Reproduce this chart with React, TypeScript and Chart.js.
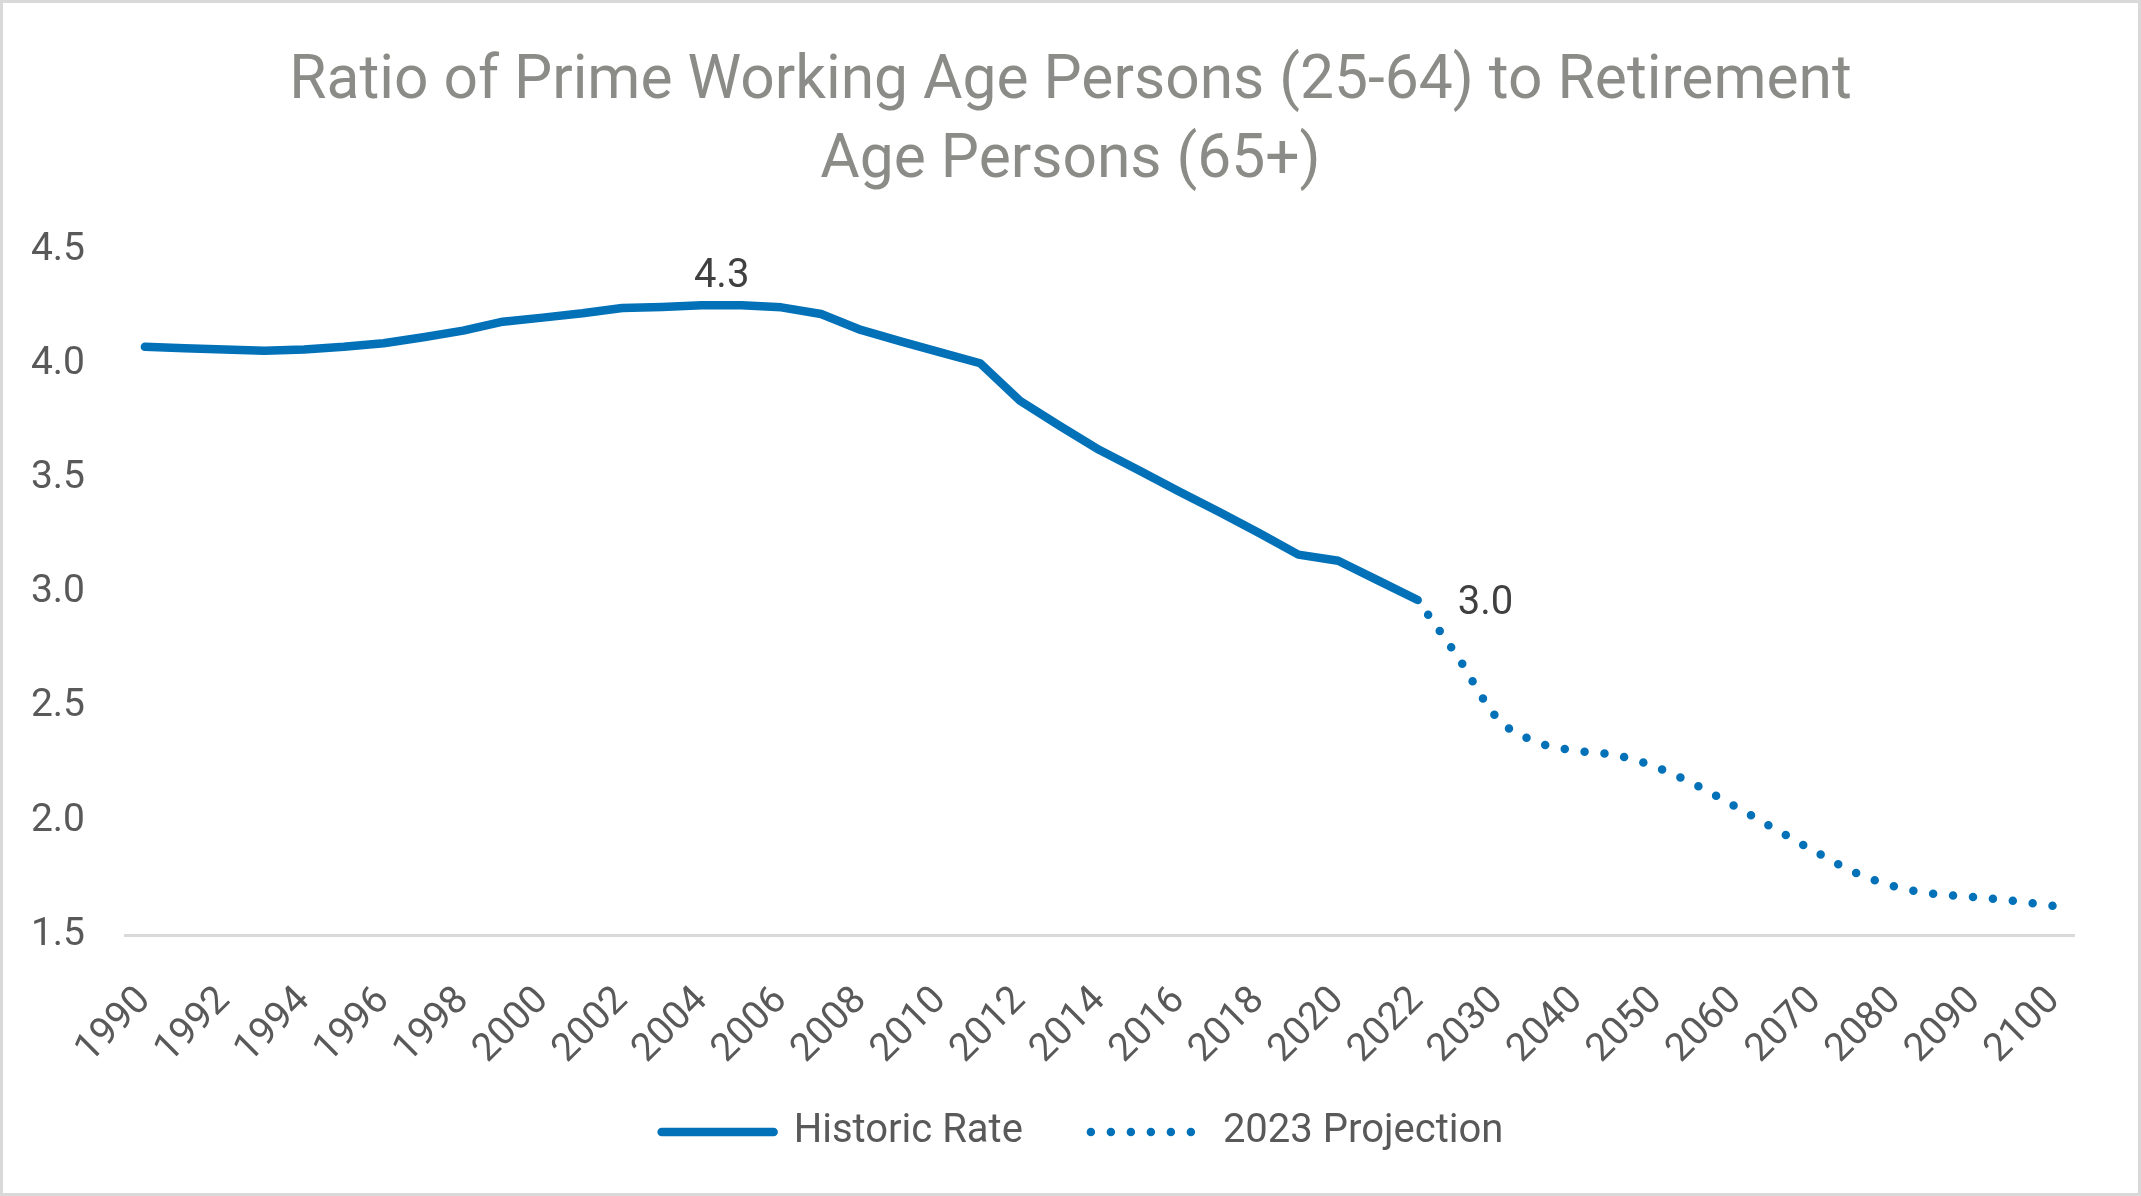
import React, { useEffect, useRef } from 'react';
import { Chart, registerables } from 'chart.js';

Chart.register(...registerables);

const categories = [
  '1990', '1991', '1992', '1993', '1994', '1995', '1996', '1997', '1998', '1999',
  '2000', '2001', '2002', '2003', '2004', '2005', '2006', '2007', '2008', '2009',
  '2010', '2011', '2012', '2013', '2014', '2015', '2016', '2017', '2018', '2019',
  '2020', '2021', '2022', '2025', '2030', '2035', '2040', '2045', '2050', '2055',
  '2060', '2065', '2070', '2075', '2080', '2085', '2090', '2095', '2100',
];

const tickLabels = [
  '1990', '1992', '1994', '1996', '1998', '2000', '2002', '2004', '2006', '2008',
  '2010', '2012', '2014', '2016', '2018', '2020', '2022', '2030', '2040', '2050',
  '2060', '2070', '2080', '2090', '2100',
];

// Historic Rate, 1990 .. 2022
const historic = [
  4.076, 4.07, 4.064, 4.059, 4.064, 4.076, 4.092, 4.118, 4.147, 4.186,
  4.204, 4.223, 4.246, 4.251, 4.258, 4.258, 4.249, 4.22, 4.15, 4.10,
  4.052, 4.004, 3.84, 3.73, 3.624, 3.534, 3.442, 3.354, 3.262, 3.166,
  3.139, 3.053, 2.967,
];

// 2023 Projection, 2022 .. 2100
const projectionStart = '2022';
const projection = [
  2.967, 2.72, 2.45, 2.345, 2.307, 2.287, 2.235, 2.156, 2.062, 1.963,
  1.865, 1.773, 1.712, 1.68, 1.666, 1.649, 1.627,
];

const labelledPeakYear = '2004';
const labelledLastYear = '2022';

const seriesNames = ['Historic Rate', '2023 Projection'];
const BLUE = '#0271b8';
const FONT = 'Roboto';

export default function App() {
  const canvasRef = useRef<HTMLCanvasElement | null>(null);

  useEffect(() => {
    const canvas = canvasRef.current;
    if (!canvas) return;

    const projStartIdx = categories.indexOf(projectionStart);
    const historicData = categories.map((_, i) => (i < historic.length ? historic[i] : null));
    const projectionData = categories.map((_, i) =>
      i >= projStartIdx && i - projStartIdx < projection.length ? projection[i - projStartIdx] : null
    );

    const labelPlugin = {
      id: 'pointValueLabels',
      afterDatasetsDraw(chart: any) {
        const ctx = chart.ctx;
        const meta = chart.getDatasetMeta(0);
        ctx.save();
        ctx.font = `40px ${FONT}`;
        ctx.fillStyle = '#404040';
        ctx.textBaseline = 'middle';
        const pi = categories.indexOf(labelledPeakYear);
        const p = meta.data[pi];
        const q = meta.data[pi + 1];
        ctx.textAlign = 'center';
        ctx.fillText(historic[pi].toFixed(1), (p.x + q.x) / 2, p.y - 28);
        const li = categories.indexOf(labelledLastYear);
        const l = meta.data[li];
        ctx.textAlign = 'left';
        ctx.fillText(historic[li].toFixed(1), l.x + 40, l.y + 4);
        ctx.restore();
      },
    };

    const legendShift = {
      id: 'legendShift',
      afterLayout(chart: any) {
        const lg = chart.legend;
        if (lg) {
          lg.left += 12;
          lg.right += 12;
          lg.top -= 26;
          lg.bottom -= 26;
        }
      },
    };

    const chart = new Chart(canvas, {
      type: 'line',
      data: {
        labels: categories,
        datasets: [
          {
            label: seriesNames[0],
            data: historicData,
            borderColor: BLUE,
            backgroundColor: BLUE,
            borderWidth: 8.5,
            borderCapStyle: 'round',
            borderJoinStyle: 'round',
            pointRadius: 0,
            pointHoverRadius: 0,
            tension: 0,
            spanGaps: false,
          },
          {
            label: seriesNames[1],
            data: projectionData,
            borderColor: BLUE,
            backgroundColor: BLUE,
            borderWidth: 8.5,
            borderCapStyle: 'round',
            borderJoinStyle: 'round',
            borderDash: [0, 20],
            borderDashOffset: 2,
            pointRadius: 0,
            pointHoverRadius: 0,
            cubicInterpolationMode: 'monotone',
            spanGaps: false,
          },
        ],
      },
      options: {
        animation: false,
        responsive: true,
        maintainAspectRatio: false,
        events: [],
        layout: { padding: { left: 20, right: 20, top: 0, bottom: 5 } },
        font: { family: FONT },
        plugins: {
          title: {
            display: true,
            text: ['Ratio of Prime Working Age Persons (25-64) to Retirement', 'Age Persons (65+)'],
            color: '#8b8b87',
            font: { family: FONT, size: 60.5, weight: 'normal', lineHeight: 1.306 },
            padding: { top: 40, bottom: 49 },
          },
          legend: {
            display: true,
            position: 'bottom',
            labels: {
              usePointStyle: true,
              pointStyleWidth: 112,
              padding: 68,
              color: '#595959',
              font: { family: FONT, size: 40 },
              generateLabels: () => [
                {
                  text: seriesNames[0],
                  fillStyle: BLUE,
                  strokeStyle: BLUE,
                  lineWidth: 8.5,
                  lineCap: 'round',
                  lineDash: [],
                  pointStyle: 'line',
                  hidden: false,
                  datasetIndex: 0,
                  fontColor: '#595959',
                },
                {
                  text: seriesNames[1],
                  fillStyle: BLUE,
                  strokeStyle: BLUE,
                  lineWidth: 8.5,
                  lineCap: 'round',
                  lineDash: [0, 20],
                  pointStyle: 'line',
                  hidden: false,
                  datasetIndex: 1,
                  fontColor: '#595959',
                },
              ],
            },
          },
          tooltip: { enabled: false },
        },
        scales: {
          x: {
            type: 'category',
            offset: true,
            grid: { display: false, drawTicks: false },
            border: { display: true, color: '#d9d9d9', width: 3 },
            ticks: {
              autoSkip: false,
              minRotation: 45,
              maxRotation: 45,
              padding: 43,
              color: '#595959',
              font: { family: FONT, size: 39 },
              callback: (_v: any, idx: number) =>
                tickLabels.includes(categories[idx]) ? categories[idx] : '',
            },
            afterFit: (s: any) => {
              s.height = 135;
            },
          },
          y: {
            position: 'left',
            min: 1.5,
            max: 4.5,
            grid: { display: false, drawTicks: false },
            border: { display: false },
            ticks: {
              stepSize: 0.5,
              padding: 40,
              color: '#595959',
              font: { family: FONT, size: 39 },
              callback: (v: any) => Number(v).toFixed(1),
            },
            afterFit: (s: any) => {
              s.width = 102;
            },
          },
          yRight: {
            position: 'right',
            display: true,
            grid: { display: false, drawTicks: false },
            border: { display: false },
            ticks: { display: false },
            afterFit: (s: any) => {
              s.width = 44;
            },
          },
        },
      },
      plugins: [labelPlugin, legendShift],
    } as any);

    return () => {
      chart.destroy();
    };
  }, []);

  return (
    <div
      style={{
        position: 'absolute',
        left: 0,
        top: 0,
        width: 2141,
        height: 1196,
        boxSizing: 'border-box',
        border: '3px solid #d9d9d9',
        background: '#ffffff',
      }}
    >
      <div style={{ position: 'relative', width: '100%', height: '100%' }}>
        <canvas ref={canvasRef} />
      </div>
    </div>
  );
}
